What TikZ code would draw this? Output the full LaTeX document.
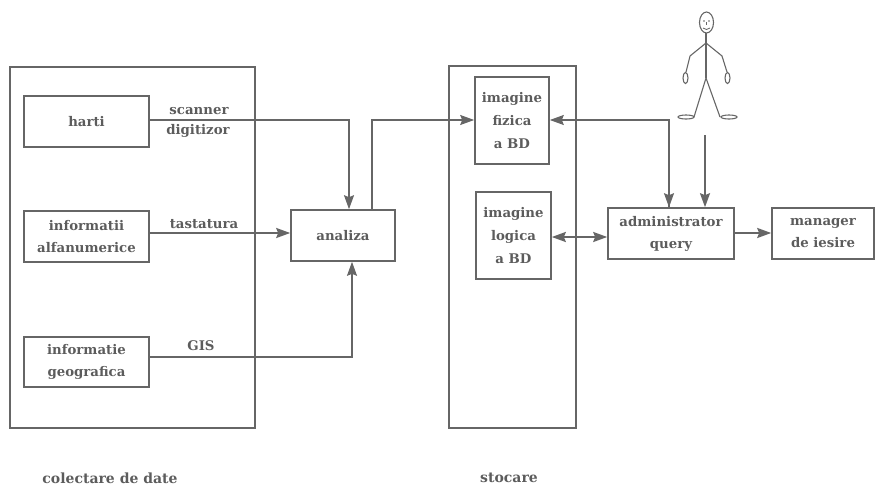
\documentclass[tikz,border=0pt]{standalone}
\usepackage{fontspec}
\setmainfont{DejaVu Serif}
\usetikzlibrary{arrows.meta}
\definecolor{ink}{gray}{0.40}
\definecolor{txt}{gray}{0.36}
\tikzset{
  x=1pt,y=-1pt,
  box/.style={draw=ink,line width=1.6pt,inner sep=0pt,align=center,font=\bfseries\fontsize{13.3}{22}\selectfont,text=txt},
  frame/.style={draw=ink,line width=1.6pt,inner sep=0pt},
  lbl/.style={inner sep=0pt,font=\bfseries\fontsize{13.3}{15}\selectfont,text=txt},
  caption/.style={inner sep=0pt,font=\bfseries\fontsize{14}{16}\selectfont,text=txt},
  conn/.style={draw=ink,line width=1.5pt,-{Stealth[length=14pt,width=10pt,inset=2pt]}},
  thick conn/.style={conn,line width=2.1pt},
  conn2/.style={draw=ink,line width=2.1pt,{Stealth[length=14pt,width=10pt,inset=2pt]}-{Stealth[length=14pt,width=10pt,inset=2pt]}},
  body/.style={draw=ink,line width=1.1pt},
}
\begin{document}
\begin{tikzpicture}
\useasboundingbox (0,0) rectangle (890,487);
% frames
\node[frame,minimum width=245pt,minimum height=361pt] (fcol) at (132.5,247.5) {};
\node[frame,minimum width=127pt,minimum height=362pt] (fsto) at (512.5,247) {};
% boxes
\node[box,minimum width=125pt,minimum height=51pt] (harti) at (86.5,121.5) {harti};
\node[box,minimum width=125pt,minimum height=51pt] (alfa) at (86.5,236.5) {informatii\\alfanumerice};
\node[box,minimum width=125pt,minimum height=50pt] (geo) at (86.5,362) {informatie\\geografica};
\node[box,minimum width=104pt,minimum height=51pt] (analiza) at (343,235.5) {analiza};
\node[box,minimum width=74pt,minimum height=87pt] (fizica) at (512,120.5) {imagine\\[1pt]fizica\\[1pt]a BD};
\node[box,minimum width=75pt,minimum height=87pt] (logica) at (513.5,235.5) {imagine\\[1pt]logica\\[1pt]a BD};
\node[box,minimum width=126pt,minimum height=51pt] (admin) at (671,233.5) {administrator\\query};
\node[box,minimum width=102pt,minimum height=51pt] (manager) at (823,233.5) {manager\\de iesire};
% labels
\node[lbl] (lscan) at (199,111) {scanner};
\node[lbl] (ldig) at (198,131) {digitizor};
\node[lbl] (ltas) at (204,224) {tastatura};
\node[lbl] (lgis) at (201,346) {GIS};
\node[caption] (ccol) at (110,478) {colectare de date};
\node[caption] (csto) at (509,478) {stocare};
% connectors
\coordinate (a1) at (349,120);
\coordinate (a2) at (352,357);
\coordinate (a3) at (372,120);
\coordinate (a4) at (669,120);
\coordinate (a5) at (705,135);
\coordinate (a6) at (0,233);
\coordinate (a7) at (0,237);
\draw[conn] (harti.east |- a1) -- (a1) -- (a1 |- analiza.north);
\draw[thick conn] (alfa.east |- a6) -- (analiza.west |- a6);
\draw[conn] (geo.east |- a2) -- (a2) -- (a2 |- analiza.south);
\draw[conn] (a3 |- analiza.north) -- (a3) -- (fizica.west |- a3);
\draw[conn] (a4 |- admin.north) -- (a4) -- (fizica.east |- a4);
\draw[conn] (a4) -- (a4 |- admin.north);
\draw[thick conn] (a5) -- (a5 |- admin.north);
\draw[conn2] (logica.east |- a7) -- (admin.west |- a7);
\draw[thick conn] (admin.east |- a6) -- (manager.west |- a6);
% person
\draw[body] (706.5,22.5) ellipse [x radius=7,y radius=10.5];
\draw[body] (706,33) -- (706,78);
\draw[body] (706,43) -- (690,56) -- (686,72);
\draw[body] (706,43) -- (722,56) -- (727,72);
\draw[body] (685.5,78) ellipse [x radius=2.5,y radius=5.5];
\draw[body] (727.5,78) ellipse [x radius=2.5,y radius=5.5];
\draw[body] (694,117) -- (706,78) -- (720,117);
\draw[body] (686,117) ellipse [x radius=8,y radius=2];
\draw[body] (729,117) ellipse [x radius=8,y radius=2];
\fill[ink] (704,21) circle (0.8) (709,21) circle (0.8);
\draw[body,line width=0.6pt] (706.5,22) -- (706.5,25);
\draw[body,line width=0.8pt] (703,28) .. controls (705,30) and (708,30) .. (710,28);
\end{tikzpicture}
\end{document}
